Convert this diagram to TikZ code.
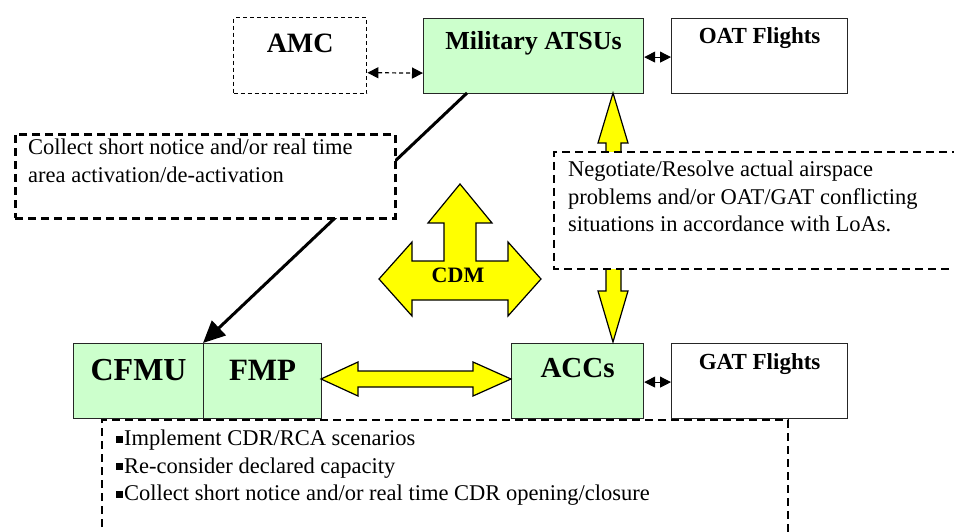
\documentclass[tikz,border=0pt]{standalone}
\usepackage{fontspec}
\setmainfont{Liberation Serif}
\usetikzlibrary{arrows.meta,calc}
\definecolor{unitgreen}{HTML}{CCFFCC}
\definecolor{cdmyellow}{HTML}{FFFF00}
\newcommand{\sqbullet}{\raisebox{3pt}{\rule{7pt}{7pt}}\hspace{1pt}}
\tikzset{
  x=1pt,y=-1pt,
  unit/.style={draw=black!85,line width=1.2pt,fill=unitgreen,anchor=north west,inner sep=0pt},
  plainbox/.style={draw=black!85,line width=1.2pt,fill=white,anchor=north west,inner sep=0pt},
  amcbox/.style={draw,line width=1.4pt,dash pattern=on 4pt off 3pt,fill=white,anchor=north west,inner sep=0pt},
  notebox/.style={draw,line width=2.8pt,dash pattern=on 8pt off 5pt,fill=white,anchor=north west,inner sep=0pt},
  notedash/.style={line width=2.8pt,dash pattern=on 8pt off 5pt},
  title/.style={inner sep=0pt},
  note/.style={font=\fontsize{22.5}{27.5}\selectfont,align=left,anchor=north west,inner sep=0pt},
  bigarrow/.style={draw=black,line width=1.2pt,fill=cdmyellow,line join=miter},
  link/.style={line width=1pt,{Triangle[length=11pt,width=11pt]}-{Triangle[length=11pt,width=11pt]}},
}
\begin{document}
\begin{tikzpicture}
\useasboundingbox (0,0) rectangle (954,532);

% ---- units ----
\node[amcbox,minimum width=133,minimum height=76] (amc) at (233,17) {};
\node[unit,minimum width=220,minimum height=75] (mil) at (423,18) {};
\node[plainbox,minimum width=176,minimum height=75] (oat) at (671,18) {};
\node[unit,minimum width=130,minimum height=75] (cfmu) at (73,343) {};
\node[unit,minimum width=118,minimum height=75] (fmp) at (203,343) {};
\node[unit,minimum width=132,minimum height=75] (acc) at (511,343) {};
\node[plainbox,minimum width=176,minimum height=75] (gat) at (671,343) {};

\node[title,font=\fontsize{28}{30}\bfseries\selectfont] (amct) at ($(amc.north)+(0,26)$) {AMC};
\node[title,font=\fontsize{26}{28}\bfseries\selectfont] (milt) at ($(mil.north)+(0,25)$) {Military ATSUs};
\node[title,font=\fontsize{23}{25}\bfseries\selectfont] (oatt) at ($(oat.north)+(0,20)$) {OAT Flights};
\node[title,font=\fontsize{32}{34}\bfseries\selectfont] (cfmut) at ($(cfmu.north)+(0,27)$) {CFMU};
\node[title,font=\fontsize{31}{33}\bfseries\selectfont] (fmpt) at ($(fmp.north)+(0,27)$) {FMP};
\node[title,font=\fontsize{29}{31}\bfseries\selectfont] (acct) at ($(acc.north)+(0,25)$) {ACCs};
\node[title,font=\fontsize{23}{25}\bfseries\selectfont] (gatt) at ($(gat.north)+(0,21)$) {GAT Flights};

% ---- coordination links ----
\draw[link,dash pattern=on 4pt off 3pt,line width=1.2pt] ($(amc.east)+(0,17)$) -- ($(mil.west)+(0,17)$);
\draw[link] ($(mil.east)+(0,1)$) -- ($(oat.west)+(0,1)$);
\draw[link] ($(acc.east)+(0,1)$) -- ($(gat.west)+(0,1)$);

% ---- information flow from the military units to CFMU/FMP ----
\coordinate (milfoot) at (467,93);
\draw[line width=3pt,-{Triangle[length=22pt,width=20pt]}] (milfoot) -- (fmp.north west);

% ---- negotiation arrows ----
\draw[bigarrow] (613,93) -- (628,143) -- (621,143) -- (621,158) -- (606,158) -- (606,143) -- (598,143) -- cycle;
\draw[bigarrow] (606,262) -- (621,262) -- (621,291) -- (628,291) -- (613,342) -- (598,291) -- (606,291) -- cycle;

% ---- FMP <-> ACCs ----
\draw[bigarrow] (321,379) -- (358,362) -- (358,371) -- (473,371) -- (473,362) -- (511,379)
  -- (473,396) -- (473,387) -- (358,387) -- (358,396) -- cycle;

% ---- CDM three-way arrow ----
\draw[bigarrow] (460,184) -- (492,223) -- (476,223) -- (476,261) -- (508,261) -- (508,242)
  -- (541,279) -- (508,316) -- (508,300) -- (412,300) -- (412,316) -- (379,279)
  -- (412,242) -- (412,261) -- (444,261) -- (444,223) -- (428,223) -- cycle;
\node[title,font=\fontsize{22}{24}\bfseries\selectfont] (cdm) at (458,275) {CDM};

% ---- annotation boxes ----
\node[notebox,minimum width=380,minimum height=84] (areabox) at (14,133) {};
\node[note] (areatext) at ($(areabox.north west)+(14,6)$) {Collect short notice and/or real time\\area activation/de-activation};

\fill[white] (554,152) rectangle (954,269);
\draw[notedash] (960,152) -- (554,152) -- (554,269) -- (960,269);
\coordinate (negnw) at (554,152);
\node[note] (negtext) at ($(negnw)+(14,9)$) {Negotiate/Resolve actual airspace\\problems and/or OAT/GAT conflicting\\situations in accordance with LoAs.};

\draw[notedash] (102,540) -- (102,420) -- (788,420) -- (788,540);
\coordinate (actnw) at (102,420);
\node[note] (acttext) at ($(actnw)+(14,10)$) {\sqbullet Implement CDR/RCA scenarios\\\sqbullet Re-consider declared capacity\\\sqbullet Collect short notice and/or real time CDR opening/closure};
\end{tikzpicture}
\end{document}
